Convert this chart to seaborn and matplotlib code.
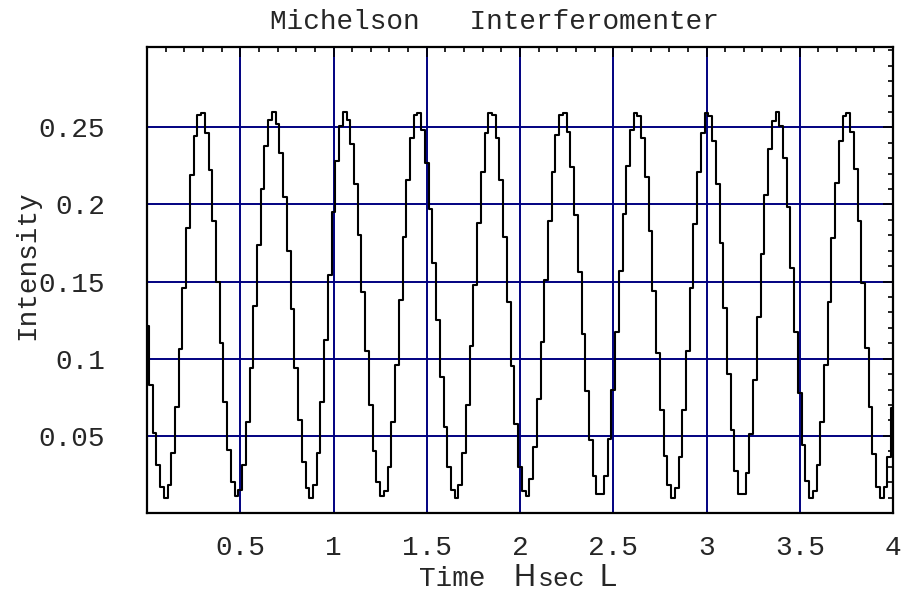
import numpy as np
import pandas as pd
import matplotlib
matplotlib.use("Agg")
import matplotlib.pyplot as plt
import seaborn as sns
from matplotlib.ticker import FixedLocator, FixedFormatter, MultipleLocator

# detector samples, one every 0.02 s
sample_step = 0.02
intensity = [
    0.121, 0.083, 0.052, 0.031, 0.017,
    0.010, 0.018, 0.039, 0.069, 0.106, 0.146, 0.185, 0.219, 0.244, 0.258,
    0.259, 0.246, 0.222, 0.189, 0.150, 0.110, 0.072, 0.041, 0.020, 0.011,
    0.015, 0.031, 0.059, 0.094, 0.134, 0.174, 0.210, 0.238, 0.255,
    0.260, 0.252, 0.233, 0.205, 0.170, 0.132, 0.094, 0.060, 0.033, 0.016, 0.010,
    0.018, 0.039, 0.072, 0.112, 0.154, 0.195, 0.228, 0.251, 0.260,
    0.255, 0.239, 0.213, 0.180, 0.143, 0.105, 0.070, 0.040, 0.020, 0.011,
    0.014, 0.030, 0.059, 0.096, 0.138, 0.179, 0.216, 0.243, 0.258,
    0.259, 0.248, 0.227, 0.197, 0.162, 0.125, 0.088, 0.056, 0.030, 0.015, 0.010,
    0.018, 0.039, 0.070, 0.108, 0.148, 0.188, 0.221, 0.246, 0.259,
    0.258, 0.243, 0.216, 0.179, 0.137, 0.095, 0.058, 0.030, 0.014,
    0.011, 0.022, 0.043, 0.074, 0.111, 0.151, 0.189, 0.221, 0.245, 0.258,
    0.259, 0.247, 0.224, 0.193, 0.156, 0.116, 0.079, 0.047, 0.024, 0.012,
    0.012, 0.024, 0.048, 0.080, 0.117, 0.157, 0.194, 0.225, 0.248, 0.259,
    0.257, 0.243, 0.218, 0.183, 0.144, 0.104, 0.067, 0.037, 0.018, 0.010,
    0.016, 0.036, 0.067, 0.105, 0.146, 0.187, 0.221, 0.246, 0.259,
    0.257, 0.241, 0.213, 0.175, 0.133, 0.090, 0.054, 0.027, 0.012,
    0.012, 0.026, 0.051, 0.086, 0.127, 0.168, 0.206, 0.236, 0.254,
    0.260, 0.251, 0.230, 0.198, 0.159, 0.117, 0.078, 0.044, 0.021, 0.010,
    0.014, 0.031, 0.059, 0.096, 0.137, 0.178, 0.214, 0.241, 0.257,
    0.259, 0.247, 0.223, 0.189, 0.149, 0.107, 0.069, 0.038, 0.017, 0.010,
    0.017, 0.036, 0.068,
]
time = np.arange(len(intensity)) * sample_step

xtick_values = [0.5, 1, 1.5, 2, 2.5, 3, 3.5, 4]
xtick_labels = ["0.5", "1", "1.5", "2", "2.5", "3", "3.5", "4"]
ytick_values = [0.05, 0.1, 0.15, 0.2, 0.25]
ytick_labels = ["0.05", "0.1", "0.15", "0.2", "0.25"]

df = pd.DataFrame({"Time": time, "Intensity": intensity})

sns.set_style("white")
plt.rcParams["font.family"] = ["Liberation Mono", "DejaVu Sans Mono"]
navy = "#000080"
W, H = 915, 592

fig = plt.figure(figsize=(W / 100, H / 100), dpi=100)
ax = fig.add_axes([147 / W, 1 - 513 / H, 746 / W, 466 / H])

sns.lineplot(data=df, x="Time", y="Intensity", ax=ax, color="black",
             linewidth=1.5, drawstyle="steps-mid", estimator=None, sort=False)

ax.set_xlim(0, 4)
ax.set_ylim(0, 0.302)

ax.xaxis.set_major_locator(FixedLocator(xtick_values))
ax.xaxis.set_major_formatter(FixedFormatter(xtick_labels))
ax.yaxis.set_major_locator(FixedLocator(ytick_values))
ax.yaxis.set_major_formatter(FixedFormatter(ytick_labels))
ax.xaxis.set_minor_locator(MultipleLocator(0.1))
ax.yaxis.set_minor_locator(MultipleLocator(0.01))

ax.grid(True, which="major", color=navy, linewidth=1.4)
ax.set_axisbelow(True)
ax.tick_params(which="both", direction="in", top=True, right=True,
               color="black", width=1.2, labelsize=20)
ax.tick_params(which="major", length=7)
ax.tick_params(which="minor", length=3.5)
ax.tick_params(axis="x", pad=16)
ax.tick_params(axis="y", pad=30)
for side in ax.spines.values():
    side.set_color("black")
    side.set_linewidth(1.6)

ax.set_xlabel("")
ax.set_ylabel("Intensity", fontsize=20)
ax.yaxis.set_label_coords((40 - 147) / 746, (513 - 265) / 466)

# title and the Mathematica-style axis label
fig.text(494 / W, 1 - 22 / H, "Michelson   Interferomenter",
         ha="center", va="center", fontsize=20)
base = 1 - 586 / H
fig.text(419 / W, base, "Time", ha="left", va="baseline", fontsize=20)
fig.text(514 / W, base, "H", ha="left", va="baseline", fontsize=22,
         family=["Liberation Sans", "DejaVu Sans"])
fig.text(538 / W, base, "sec", ha="left", va="baseline", fontsize=19)
fig.text(600 / W, base, "L", ha="left", va="baseline", fontsize=22,
         family=["Liberation Sans", "DejaVu Sans"])

fig.savefig("out.png", dpi=100)
